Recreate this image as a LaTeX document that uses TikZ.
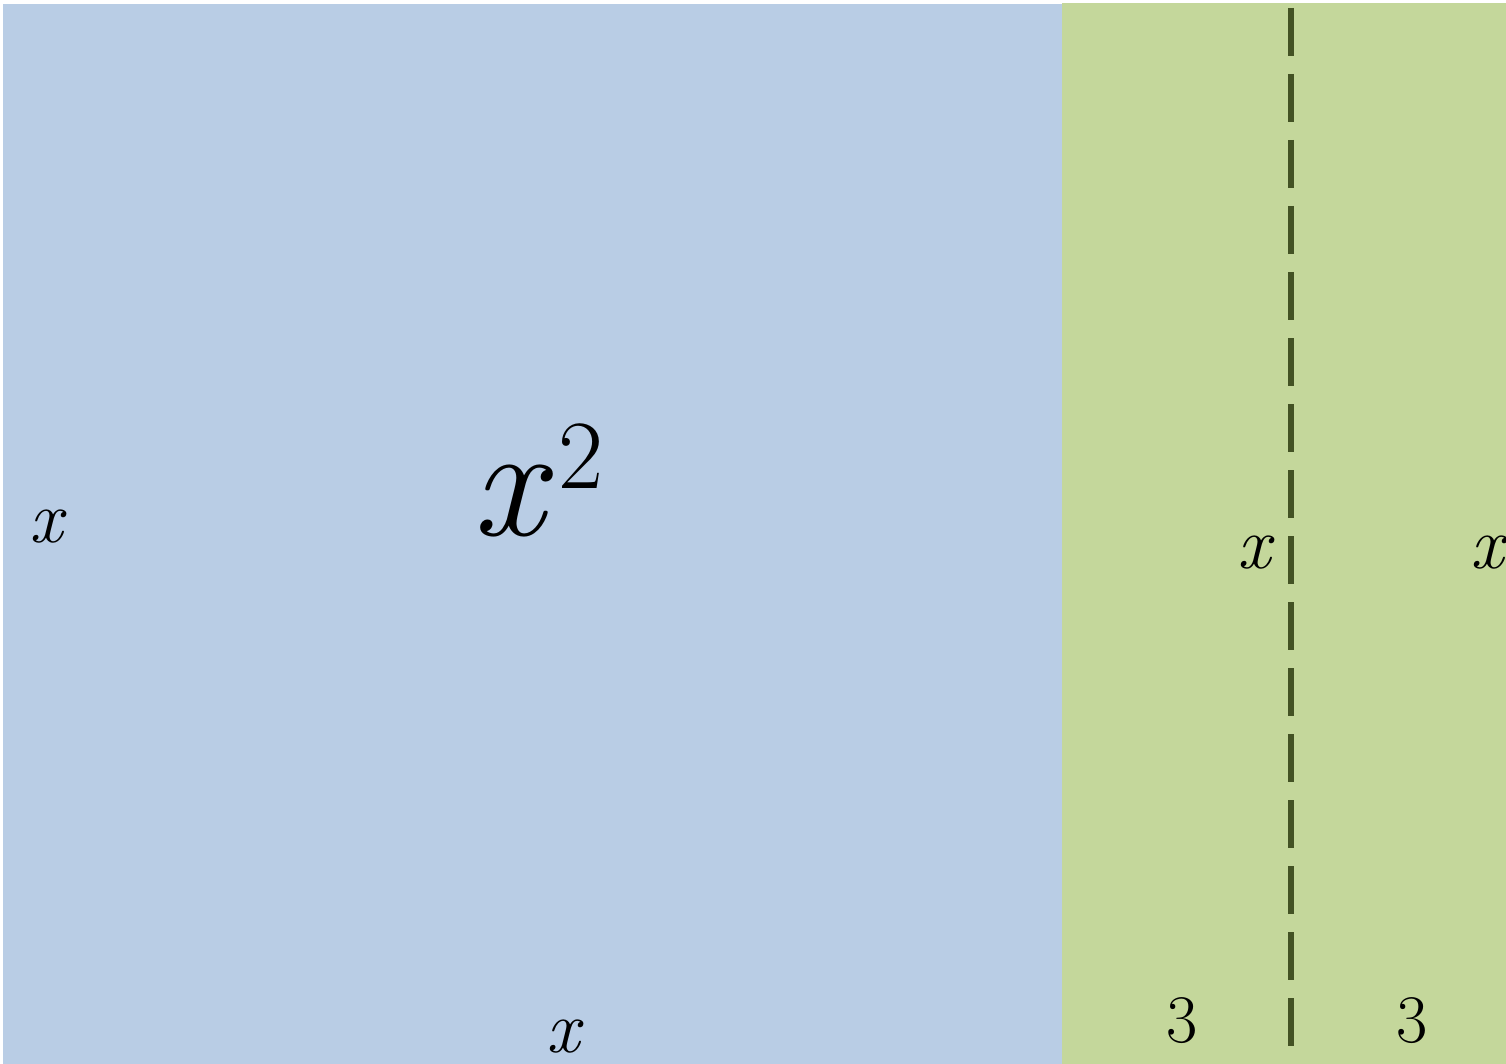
\documentclass[tikz,border=0pt]{standalone}
\definecolor{blueA}{HTML}{B9CDE5}
\definecolor{greenA}{HTML}{C4D79B}
\definecolor{dashG}{HTML}{435224}
\begin{document}
\begin{tikzpicture}[x=1pt,y=-1pt,
  lab/.style={inner sep=0pt,outer sep=0pt,anchor=base,font=\fontsize{74}{74}\selectfont\itshape},
  num/.style={inner sep=0pt,outer sep=0pt,anchor=base,font=\fontsize{68}{68}\selectfont}]
\useasboundingbox (0,0) rectangle (1506,1064);
\fill[blueA] (3,4) rectangle (1062,1064);
\fill[greenA] (1062,3) rectangle (1506,1064);
\coordinate (dtop) at (1291,8);
\coordinate (dbot) at (1291,1046);
\draw[dashG,line width=6pt,dash pattern=on 48pt off 18pt] (dtop) -- (dbot);
\node[inner sep=0pt,anchor=base west,font=\fontsize{160}{160}\selectfont] (sq) at (472,535) {\itshape x\hspace{14pt}\raisebox{47pt}{\upshape\fontsize{98}{98}\selectfont 2}};
\node[lab] (xl) at (46,542) {x};
\node[lab] (xb) at (563,1052) {x};
\node[lab] (xm) at (1254,568) {x};
\node[lab] (xr) at (1487,568) {x};
\node[num] (t1) at (1182,1042) {3};
\node[num] (t2) at (1412,1042) {3};
\end{tikzpicture}
\end{document}
